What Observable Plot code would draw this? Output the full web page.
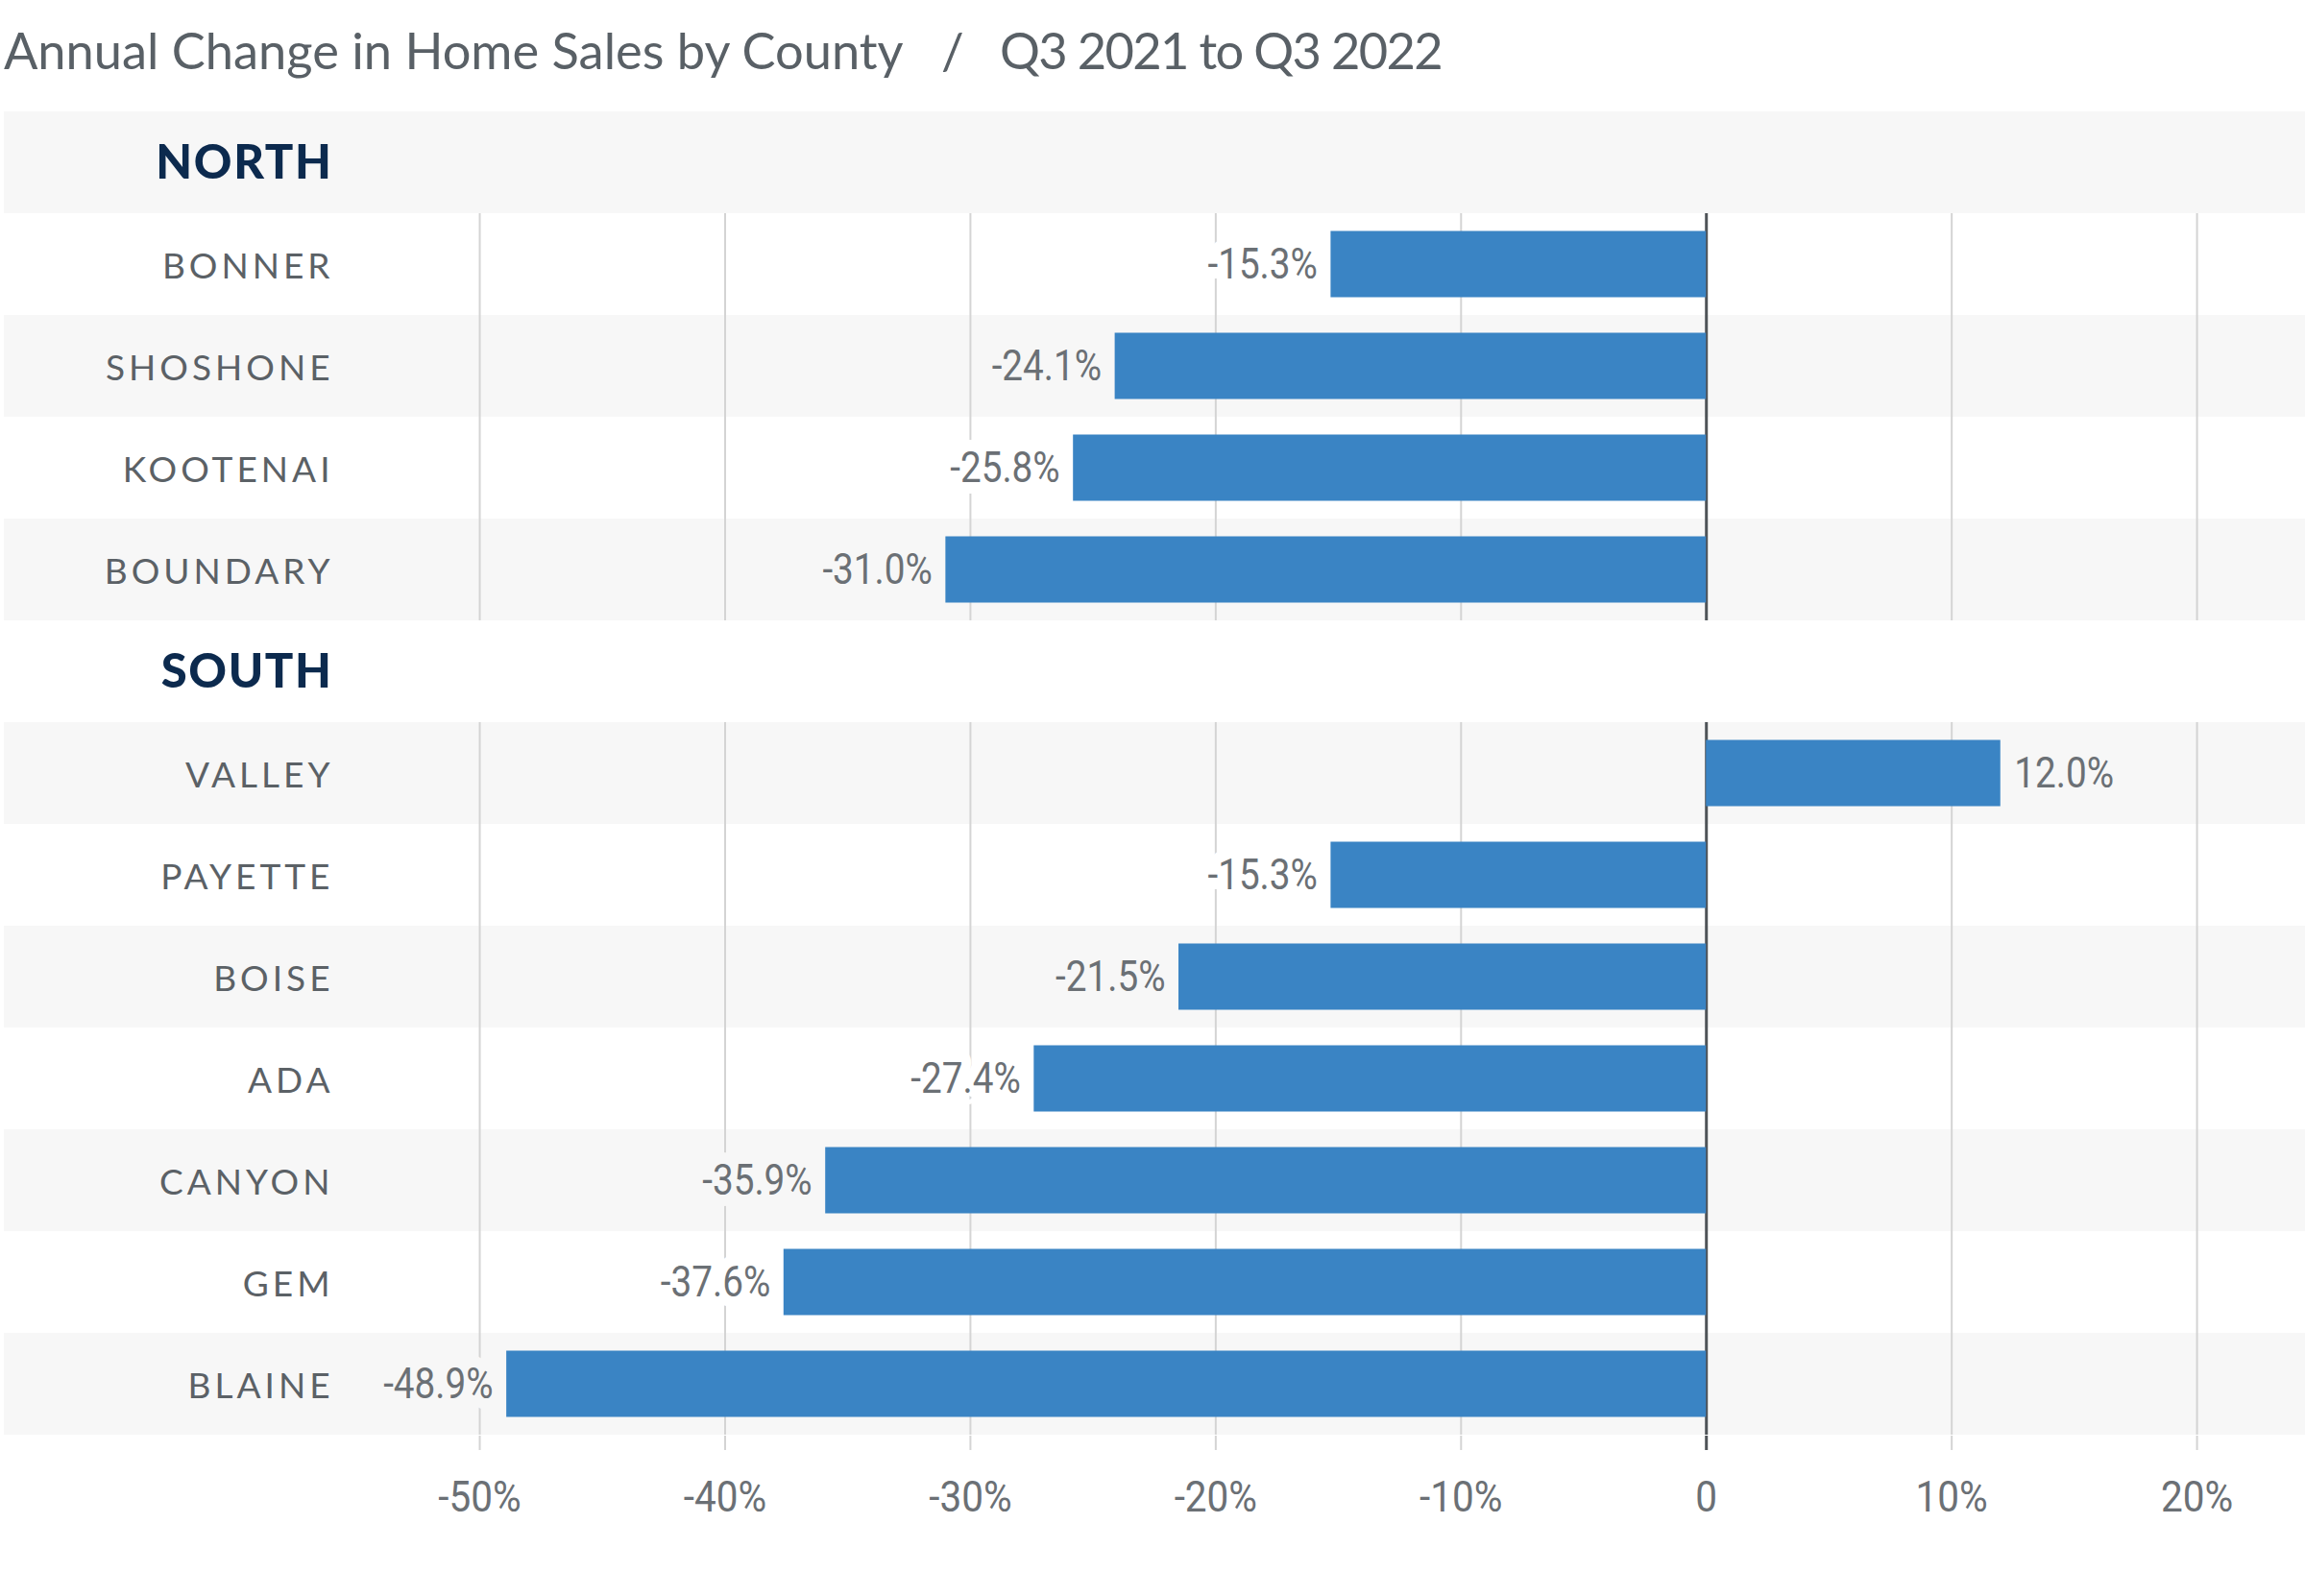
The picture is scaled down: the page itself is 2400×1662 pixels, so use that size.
<!DOCTYPE html>
<html>
<head>
<meta charset="utf-8">
<script src="https://cdn.jsdelivr.net/npm/d3@7"></script>
<script src="https://cdn.jsdelivr.net/npm/@observablehq/plot@0.6"></script>
<style>
  html, body { margin: 0; padding: 0; background: #ffffff; }
  #title {
    position: relative;
    box-sizing: border-box;
    height: 115px;
    font-family: Lato, "Open Sans", sans-serif;
    font-size: 52.4px;
    line-height: 60px;
    color: #596066;
    white-space: pre;
  }
  #title span { position: absolute; top: 22px; }
  #chart svg { display: block; }
</style>
</head>
<body>
<div id="title"><span style="left:4px">Annual Change in Home Sales by County</span><span style="left:980px">/</span><span style="left:1041px; letter-spacing:-1.65px">Q3 2021 to Q3 2022</span></div>
<div id="chart"></div>
<script>
const regions = ["NORTH", "SOUTH"];
const northCounties = ["BONNER", "SHOSHONE", "KOOTENAI", "BOUNDARY"];
const northValues = [-15.3, -24.1, -25.8, -31.0];
const southCounties = ["VALLEY", "PAYETTE", "BOISE", "ADA", "CANYON", "GEM", "BLAINE"];
const southValues = [12.0, -15.3, -21.5, -27.4, -35.9, -37.6, -48.9];
const xTicks = [-50, -40, -30, -20, -10, 0, 10, 20];
const xTickLabels = ["-50%", "-40%", "-30%", "-20%", "-10%", "0", "10%", "20%"];

// Build row table
const rows = [];
rows.push({name: regions[0], header: true});
northCounties.forEach((c, i) => rows.push({name: c, value: northValues[i], header: false}));
rows.push({name: regions[1], header: true});
southCounties.forEach((c, i) => rows.push({name: c, value: southValues[i], header: false}));
rows.forEach((r, i) => r.bg = i % 2 === 0 ? "#f7f7f7" : "#ffffff");

const dataRows = rows.filter(r => !r.header);
const headerRows = rows.filter(r => r.header);
const grid = dataRows.flatMap(r => xTicks.filter(t => t !== 0).map(t => ({name: r.name, t})));

const labelFmt = v => v.toFixed(1) + "%";
const valueFont = "Roboto, 'Liberation Sans', sans-serif";
const labelFont = "Lato, 'Open Sans', sans-serif";

const plot = Plot.plot({
  width: 2400,
  height: 1547,
  marginTop: 0,
  marginBottom: 167,
  marginLeft: 4,
  marginRight: 0,
  style: {background: "#ffffff", overflow: "visible"},
  x: {domain: [-69.38, 24.42], axis: null},
  y: {domain: rows.map(r => r.name), padding: 0, axis: null},
  marks: [
    Plot.cell(rows, {y: "name", fill: "bg"}),
    Plot.tickX(grid, {x: "t", y: "name", stroke: "#d4d4d4", strokeWidth: 2}),
    Plot.tickX(dataRows, {x: () => 0, y: "name", stroke: "#4f5458", strokeWidth: 3}),
    Plot.axisX({ticks: xTicks, tickFormat: d => xTickLabels[xTicks.indexOf(d)], tickSize: 15,
      stroke: "#d4d4d4", strokeWidth: 2, tickPadding: 32, fontSize: 45, fill: "#6b7075",
      fontFamily: valueFont}),
    Plot.axisX({ticks: [0], text: null, tickSize: 15, stroke: "#4f5458", strokeWidth: 3}),
    Plot.barX(dataRows, {x: "value", y: "name", fill: "#3a84c4", insetTop: 18.5, insetBottom: 18.5}),
    Plot.text(dataRows.filter(d => d.value < 0), {x: "value", y: "name", text: d => labelFmt(d.value),
      textAnchor: "end", dx: -14, fontSize: 45, fill: "#6b7075", fontFamily: valueFont,
      stroke: "bg", strokeWidth: 24, strokeLinejoin: "round"}),
    Plot.text(dataRows.filter(d => d.value >= 0), {x: "value", y: "name", text: d => labelFmt(d.value),
      textAnchor: "start", dx: 14, fontSize: 45, fill: "#6b7075", fontFamily: valueFont,
      stroke: "bg", strokeWidth: 24, strokeLinejoin: "round"}),
    Plot.text(dataRows, {y: "name", text: "name", frameAnchor: "left", textAnchor: "end", dx: 341, dy: 3,
      fontSize: 37, fill: "#5b6166", fontFamily: labelFont}),
    Plot.text(headerRows, {y: "name", text: "name", frameAnchor: "left", textAnchor: "end", dx: 341, dy: 1,
      fontSize: 49, fontWeight: 900, fill: "#0c2a4e", fontFamily: labelFont})
  ]
});
document.getElementById("chart").appendChild(plot);
const svg = d3.select(plot);
const countySet = new Set([...northCounties, ...southCounties]);
const regionSet = new Set(regions);
const allText = svg.selectAll("text");
allText.filter(function() { return countySet.has(this.textContent); })
  .attr("letter-spacing", "4px").attr("dx", 2);
allText.filter(function() { return regionSet.has(this.textContent); })
  .attr("letter-spacing", "1.6px").attr("dx", 1);
// condense the numeric labels horizontally
function condense(sel, k) {
  sel.each(function() {
    const t = d3.select(this);
    const tr = t.attr("transform");
    if (tr) {
      t.attr("transform", tr + ` scale(${k},1)`);
    } else {
      const x = +t.attr("x") || 0, y = +t.attr("y") || 0;
      t.attr("transform", `translate(${x},${y}) scale(${k},1) translate(${-x},${-y})`);
    }
  });
}
const valueSet = new Set(dataRows.map(d => labelFmt(d.value)));
condense(allText.filter(function() { return valueSet.has(this.textContent); }), 0.86);
condense(svg.selectAll('g[aria-label^="x-axis"] text'), 0.9);
</script>
</body>
</html>
